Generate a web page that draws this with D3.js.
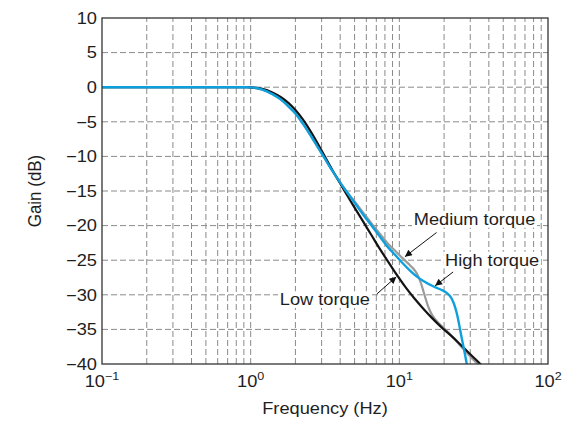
<!DOCTYPE html>
<html>
<head>
<meta charset="utf-8">
<script src="https://cdn.jsdelivr.net/npm/d3@7"></script>
<style>
  html, body { margin: 0; padding: 0; background: #fff; }
  svg { display: block; }
  text { font-family: "Liberation Sans", Arial, Helvetica, sans-serif; fill: #1e1e1e; }
</style>
</head>
<body>
<svg id="chart" width="573" height="424"></svg>
<script>
// Frequency response data (Hz, dB)
const lowFreq  = [0.1, 0.5, 0.9, 1.0, 1.2, 1.4, 1.6, 1.8, 2.0, 2.25, 2.5, 2.8, 3.15, 3.55, 4.0, 4.42, 5.0, 5.7, 6.5, 7.41, 8.4, 9.6, 11, 12.6, 14.5, 16.5, 19, 22, 25.5, 30, 35.5];
const lowGain  = [0, 0, 0, -0.02, -0.25, -0.75, -1.45, -2.3, -3.3, -4.7, -6.2, -8.0, -10.0, -12.0, -13.9, -15.5, -17.4, -19.4, -21.4, -23.4, -25.2, -27.1, -28.9, -30.5, -32.0, -33.3, -34.6, -35.8, -37.1, -38.6, -40.1];

const medFreq  = [0.1, 0.5, 0.9, 1.0, 1.2, 1.4, 1.6, 1.8, 2.0, 2.25, 2.5, 2.8, 3.15, 3.55, 4.0, 4.42, 5.0, 5.7, 6.5, 7.41, 8.3, 9.34, 10.5, 11.5, 12.4, 13.1, 13.7, 14.3, 15.0, 15.7, 16.6, 18, 20.8, 23.5, 26.9, 30.5, 34.5];
const medGain  = [0, 0, 0, -0.03, -0.35, -1.0, -1.8, -2.8, -3.8, -5.3, -6.8, -8.5, -10.3, -12.1, -13.8, -15.1, -16.5, -18.1, -19.7, -21.2, -22.5, -23.6, -24.7, -25.5, -26.2, -26.9, -27.8, -29.0, -30.5, -31.8, -32.9, -33.9, -35.2, -36.4, -37.8, -39.1, -40.2];

const highFreq = [0.1, 0.5, 0.9, 1.0, 1.2, 1.4, 1.6, 1.8, 2.0, 2.25, 2.5, 2.8, 3.15, 3.55, 4.0, 4.42, 5.0, 5.7, 6.5, 7.41, 8.3, 9.34, 10.5, 11.8, 13.0, 14.5, 17, 19.7, 21, 22.3, 23.3, 24.3, 25.2, 26.2, 27.3, 28.4];
const highGain = [0, 0, 0, -0.03, -0.35, -1.0, -1.8, -2.8, -3.8, -5.3, -6.8, -8.5, -10.3, -12.1, -13.8, -15.1, -16.7, -18.4, -20.0, -21.6, -23.0, -24.2, -25.4, -26.5, -27.3, -28.0, -28.8, -29.4, -29.8, -30.4, -31.3, -32.6, -34.2, -36.1, -38.0, -40];

// Axis ticks
const yTicks = [10, 5, 0, -5, -10, -15, -20, -25, -30, -35, -40];
const xDecadeExponents = [-1, 0, 1, 2];
const minorMultipliers = [2, 3, 4, 5, 6, 7, 8, 9];

// Curve annotations: label text, label anchor, arrow tail and tip (Hz, dB)
const labelTexts = ["Medium torque", "High torque", "Low torque"];
const labelAt    = [[12.5, -19.9], [20.3, -25.8], [1.57, -31.5]];
const arrowFrom  = [[17.8, -21.0], [23.0, -26.7], [7.04, -29.9]];
const arrowTo    = [[10.9, -24.5], [17.4, -28.7], [9.55, -27.4]];

const margin = { left: 102, top: 18, right: 25, bottom: 60 };
const W = 573, H = 424;
const svg = d3.select("#chart");
const sx = 1.14; // horizontal stretch of lettering

const x = d3.scaleLog().domain([0.1, 100]).range([margin.left, W - margin.right]);
const y = d3.scaleLinear().domain([-40, 10]).range([H - margin.bottom, margin.top]);

const x0 = x.range()[0], x1 = x.range()[1], y0 = y.range()[0], y1 = y.range()[1];

const defs = svg.append("defs");
defs.append("clipPath").attr("id", "plotClip")
  .append("rect").attr("x", x0).attr("y", y1).attr("width", x1 - x0).attr("height", y0 - y1);
defs.append("marker")
  .attr("id", "arrowHead").attr("viewBox", "0 0 10 10")
  .attr("refX", 10).attr("refY", 5)
  .attr("markerWidth", 9).attr("markerHeight", 7)
  .attr("markerUnits", "userSpaceOnUse")
  .attr("orient", "auto")
  .append("path").attr("d", "M0,0 L10,5 L0,10 Z").attr("fill", "#111");

// Grid
const vGrid = [];
xDecadeExponents.forEach(e => {
  if (e < 2) minorMultipliers.forEach(m => vGrid.push(m * Math.pow(10, e)));
  if (e > -1 && e < 2) vGrid.push(Math.pow(10, e));
});
const grid = svg.append("g").attr("stroke", "#8a8a8a").attr("stroke-width", 1).attr("stroke-dasharray", "6,3");
grid.selectAll("line.v").data(vGrid).join("line").attr("class", "v")
  .attr("x1", d => x(d)).attr("x2", d => x(d)).attr("y1", y0).attr("y2", y1);
grid.selectAll("line.h").data(yTicks.filter(d => d > -40 && d < 10)).join("line").attr("class", "h")
  .attr("x1", x0).attr("x2", x1).attr("y1", d => y(d)).attr("y2", d => y(d));

// Curves
const line = d3.line().x(d => x(d[0])).y(d => y(d[1])).curve(d3.curveCatmullRom.alpha(0.5));
const zip = (f, g) => f.map((v, i) => [v, g[i]]);
const curves = svg.append("g").attr("clip-path", "url(#plotClip)").attr("fill", "none")
  .attr("stroke-linejoin", "round").attr("stroke-linecap", "round");
curves.append("path").attr("d", line(zip(medFreq, medGain))).attr("stroke", "#9a9a9a").attr("stroke-width", 2.2);
curves.append("path").attr("d", line(zip(lowFreq, lowGain))).attr("stroke", "#141414").attr("stroke-width", 2.2);
curves.append("path").attr("d", line(zip(highFreq, highGain))).attr("stroke", "#0ea0dc").attr("stroke-width", 2.4);

// Frame
svg.append("rect").attr("x", x0).attr("y", y1).attr("width", x1 - x0).attr("height", y0 - y1)
  .attr("fill", "none").attr("stroke", "#333").attr("stroke-width", 1.3);

// Y tick labels
const fmt = v => (v < 0 ? "\u2212" + Math.abs(v) : String(v));
svg.append("g").selectAll("g").data(yTicks).join("g")
  .attr("transform", d => `translate(${x0 - 5},${y(d) + 5.8}) scale(${sx},1)`)
  .append("text").attr("text-anchor", "end").attr("font-size", 16).text(fmt);

// X tick labels: 10 with superscript exponent
const xl = svg.append("g").selectAll("g").data(xDecadeExponents).join("g")
  .attr("transform", d => `translate(${x(Math.pow(10, d))},${y0 + 23}) scale(${sx},1)`)
  .append("text").attr("text-anchor", "middle").attr("font-size", 16);
xl.append("tspan").text("10");
xl.append("tspan").attr("dy", -7).attr("font-size", 11).text(d => fmt(d));

// Axis titles
svg.append("g").attr("transform", `translate(${(x0 + x1) / 2},${H - 10}) scale(${sx},1)`)
  .append("text").attr("text-anchor", "middle").attr("font-size", 16).text("Frequency (Hz)");
svg.append("g").attr("transform", `translate(41,${(y0 + y1) / 2}) rotate(-90) scale(1.06,1.12)`)
  .append("text").attr("text-anchor", "middle").attr("font-size", 16).text("Gain (dB)");

// Annotations
labelTexts.forEach((t, i) => {
  svg.append("line")
    .attr("x1", x(arrowFrom[i][0])).attr("y1", y(arrowFrom[i][1]))
    .attr("x2", x(arrowTo[i][0])).attr("y2", y(arrowTo[i][1]))
    .attr("stroke", "#111").attr("stroke-width", 1)
    .attr("marker-end", "url(#arrowHead)");
  const g = svg.append("g").attr("transform", `translate(${x(labelAt[i][0])},${y(labelAt[i][1])}) scale(${sx},1)`);
  const txt = g.append("text").attr("font-size", 16).text(t);
  const b = txt.node().getBBox();
  g.insert("rect", "text").attr("x", b.x - 1.5).attr("y", b.y + 1).attr("width", b.width + 3).attr("height", b.height - 2)
    .attr("fill", "#fff");
});
</script>
</body>
</html>
